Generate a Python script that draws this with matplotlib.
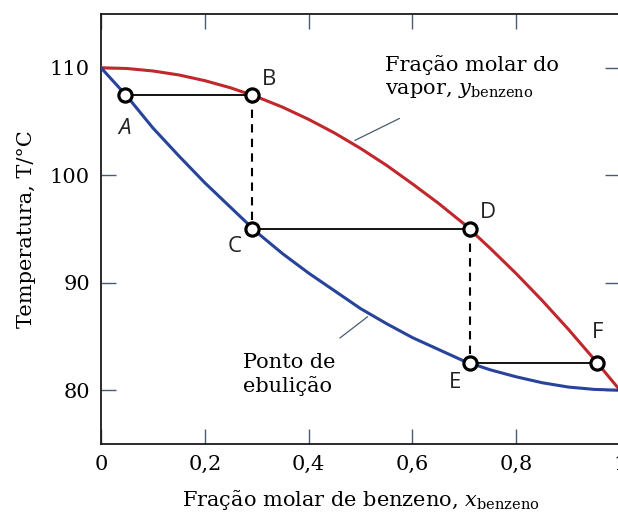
import matplotlib
matplotlib.use("Agg")
import matplotlib.pyplot as plt

plt.rcParams['font.family'] = ['DejaVu Serif']
plt.rcParams['mathtext.fontset'] = 'dejavuserif'

# composition grid and the two phase-boundary curves (T in °C)
x_frac = [0.00, 0.05, 0.10, 0.15, 0.20, 0.25, 0.30, 0.35, 0.40, 0.45, 0.50,
          0.55, 0.60, 0.65, 0.70, 0.75, 0.80, 0.85, 0.90, 0.95, 1.00]
t_liquid = [110.0, 107.35, 104.4, 101.8, 99.3, 97.0, 94.7, 92.7, 90.9, 89.25, 87.6,
            86.2, 84.9, 83.8, 82.7, 81.9, 81.25, 80.7, 80.3, 80.08, 80.0]
t_vapor = [110.0, 109.93, 109.7, 109.33, 108.8, 108.13, 107.3, 106.33, 105.2, 103.93, 102.5,
           100.93, 99.2, 97.4, 95.45, 93.2, 90.85, 88.35, 85.7, 82.9, 80.0]

# state points on the tie lines
pt_names = ['A', 'B', 'C', 'D', 'E', 'F']
pt_x = [0.046, 0.291, 0.291, 0.711, 0.711, 0.956]
pt_t = [107.5, 107.5, 95.0, 95.0, 82.5, 82.5]

fig = plt.figure(figsize=(6.18, 5.14), dpi=100)
ax = fig.add_axes([101 / 618, 70 / 514, 519 / 618, 430 / 514])

red = '#c0282d'
blue = '#27439a'
tick_c = '#4a5a75'

ax.plot(x_frac, t_vapor, color=red, lw=2.2, zorder=3, solid_capstyle='round',
        solid_joinstyle='round')
ax.plot(x_frac, t_liquid, color=blue, lw=2.2, zorder=3, solid_capstyle='round',
        solid_joinstyle='round')

# horizontal tie lines A-B, C-D, E-F
for i in (0, 2, 4):
    ax.plot([pt_x[i], pt_x[i + 1]], [pt_t[i], pt_t[i + 1]], color='black', lw=1.3, zorder=4)
# vertical dashed drops B-C, D-E
for i in (1, 3):
    ax.plot([pt_x[i], pt_x[i + 1]], [pt_t[i], pt_t[i + 1]], color='black', lw=1.5,
            ls=(0, (4, 3)), zorder=4)

ax.plot(pt_x, pt_t, 'o', ms=9.5, mfc='white', mec='black', mew=2.3, zorder=5)

offsets = {'A': (0, -34), 'B': (17, 15), 'C': (-17, -18),
           'D': (18, 16), 'E': (-15, -19), 'F': (0, 31)}
for name, px, pt in zip(pt_names, pt_x, pt_t):
    style = 'italic' if name == 'A' else 'normal'
    ax.annotate(name, (px, pt), xytext=offsets[name], textcoords='offset pixels',
                ha='center', va='center', fontsize=16, family='Open Sans',
                style=style, color='#222222')

# curve captions with thin leader lines
ax.annotate('', xy=(0.4844, 103.13), xytext=(0.58, 105.4),
            arrowprops=dict(arrowstyle='-', color=tick_c, lw=0.9))
ax.text(0.547, 111.2, 'Fração molar do\nvapor, $y_{\\mathrm{benzeno}}$', fontsize=15,
        ha='left', va='top', linespacing=1.25)
ax.annotate('', xy=(0.518, 87.0), xytext=(0.456, 84.7),
            arrowprops=dict(arrowstyle='-', color=tick_c, lw=0.9))
ax.text(0.274, 83.5, 'Ponto de\nebulição', fontsize=15, ha='left', va='top',
        linespacing=1.25)

ax.set_xlim(0, 1)
ax.set_ylim(75, 115)
ax.set_xticks([0, 0.2, 0.4, 0.6, 0.8, 1.0])
ax.set_xticklabels(['0', '0,2', '0,4', '0,6', '0,8', '1'])
ax.set_yticks([80, 90, 100, 110])
ax.tick_params(direction='in', length=11, width=1, color=tick_c, labelsize=15,
               top=True, right=True, pad=8)
for s in ax.spines.values():
    s.set_linewidth(1.3)
    s.set_color('#1a1a1a')

ax.set_xlabel('Fração molar de benzeno, $x_{\\mathrm{benzeno}}$', fontsize=15, labelpad=10)
ax.set_ylabel('Temperatura, T/°C', fontsize=15, labelpad=10)

fig.savefig('out.png', dpi=100)
